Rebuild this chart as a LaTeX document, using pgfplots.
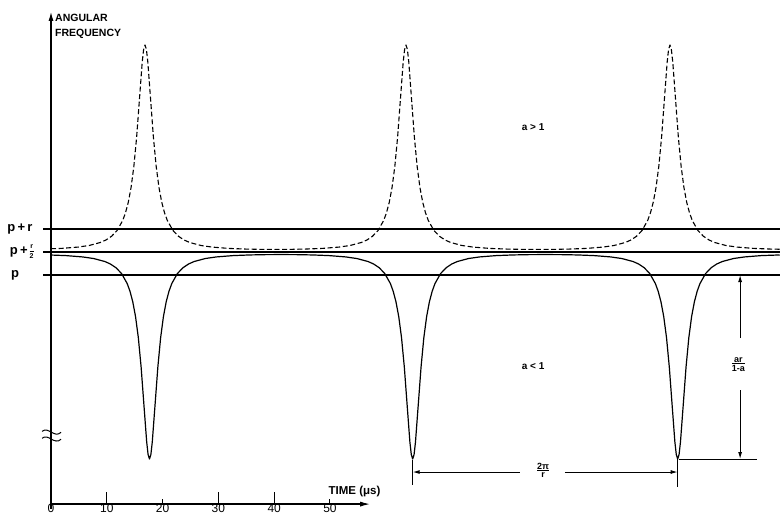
\documentclass[border=0pt]{standalone}
\usepackage{pgfplots}
\pgfplotsset{compat=1.18}
\usepackage{fontspec}
\setmainfont{Liberation Sans}
\usetikzlibrary{arrows.meta}

% small stacked fraction set in the text font
\newcommand{\tfrac}[2]{\begin{tabular}{@{}c@{}}\rule[-1.5pt]{0pt}{7pt}#1\\[-2.5pt]\hline\rule{0pt}{7.5pt}#2\end{tabular}}

\begin{document}
\begin{tikzpicture}
\begin{axis}[
  scale only axis, width=780pt, height=519pt,
  xmin=-9.14, xmax=130.65, ymin=-5.304, ymax=5.978,
  axis lines=none, clip=false,
  every axis plot/.append style={black, line join=round},
]
\coordinate (bbsw) at (rel axis cs:0,0);
\coordinate (bbne) at (rel axis cs:1,1);

% reference levels p+r, p+r/2, p
\addplot[line width=1.1pt] coordinates {(-1.4,1) (130.65,1)};
\addplot[line width=1.1pt] coordinates {(-1.4,0.5) (130.65,0.5)};
\addplot[line width=1.1pt] coordinates {(-1.4,0) (130.65,0)};

% a > 1 : instantaneous frequency (dashed)
\addplot[line width=1.1pt, dash pattern=on 5pt off 2.6pt] coordinates {
(0,0.572) (1.85,0.578) (4.85,0.607) (6.85,0.642) (8.85,0.707) (9.85,0.761)
(10.85,0.842) (11.85,0.969) (12.85,1.185) (13.35,1.351) (13.85,1.580)
(14.35,1.903) (14.85,2.361) (15.35,3.000) (15.85,3.818) (16.35,4.632)
(16.6,4.902) (16.85,5.0) (17.1,4.902) (17.35,4.632) (17.85,3.818)
(18.35,3.000) (18.85,2.361) (19.35,1.903) (19.85,1.580) (20.35,1.351)
(20.85,1.185) (21.85,0.969) (22.85,0.842) (23.85,0.761) (24.85,0.707)
(26.85,0.642) (28.85,0.607) (31.85,0.578) (34.85,0.564) (37.85,0.557)
(40.24,0.556)
(42.62,0.557) (45.62,0.564) (48.62,0.578) (51.62,0.607) (53.62,0.642)
(55.62,0.707) (56.62,0.761) (57.62,0.842) (58.62,0.969) (59.62,1.185)
(60.12,1.351) (60.62,1.580) (61.12,1.903) (61.62,2.361) (62.12,3.000)
(62.62,3.818) (63.12,4.632) (63.37,4.902) (63.62,5.0) (63.87,4.902)
(64.12,4.632) (64.62,3.818) (65.12,3.000) (65.62,2.361) (66.12,1.903)
(66.62,1.580) (67.12,1.351) (67.62,1.185) (68.62,0.969) (69.62,0.842)
(70.62,0.761) (71.62,0.707) (73.62,0.642) (75.62,0.607) (78.62,0.578)
(81.62,0.564) (84.62,0.557) (87.28,0.556)
(89.93,0.557) (92.93,0.564) (95.93,0.578) (98.93,0.607) (100.93,0.642)
(102.93,0.707) (103.93,0.761) (104.93,0.842) (105.93,0.969) (106.93,1.185)
(107.43,1.351) (107.93,1.580) (108.43,1.903) (108.93,2.361) (109.43,3.000)
(109.93,3.818) (110.43,4.632) (110.68,4.902) (110.93,5.0) (111.18,4.902)
(111.43,4.632) (111.93,3.818) (112.43,3.000) (112.93,2.361) (113.43,1.903)
(113.93,1.580) (114.43,1.351) (114.93,1.185) (115.93,0.969) (116.93,0.842)
(117.93,0.761) (118.93,0.707) (120.93,0.642) (122.93,0.607) (125.93,0.578)
(128.93,0.564) (130.6,0.560)
};

% a < 1 : instantaneous frequency (solid)
\addplot[line width=1.2pt] coordinates {
(0,0.434) (2.65,0.422) (5.65,0.393) (7.65,0.358) (9.65,0.293) (10.65,0.239)
(11.65,0.158) (12.65,0.031) (13.65,-0.185) (14.15,-0.351) (14.65,-0.580)
(15.15,-0.903) (15.65,-1.361) (16.15,-2.000) (16.65,-2.818) (17.15,-3.632)
(17.4,-3.902) (17.65,-4.0) (17.9,-3.902) (18.15,-3.632) (18.65,-2.818)
(19.15,-2.0) (19.65,-1.361) (20.15,-0.903) (20.65,-0.580) (21.15,-0.351)
(21.65,-0.185) (22.65,0.031) (23.65,0.158) (24.65,0.239) (25.65,0.293)
(27.65,0.358) (29.65,0.393) (32.65,0.422) (35.65,0.436) (38.65,0.443)
(41.24,0.444)
(43.82,0.443) (46.82,0.436) (49.82,0.422) (52.82,0.393) (54.82,0.358)
(56.82,0.293) (57.82,0.239) (58.82,0.158) (59.82,0.031) (60.82,-0.185)
(61.32,-0.351) (61.82,-0.580) (62.32,-0.903) (62.82,-1.361) (63.32,-2.0)
(63.82,-2.818) (64.32,-3.632) (64.57,-3.902) (64.82,-4.0) (65.07,-3.902)
(65.32,-3.632) (65.82,-2.818) (66.32,-2.0) (66.82,-1.361) (67.32,-0.903)
(67.82,-0.580) (68.32,-0.351) (68.82,-0.185) (69.82,0.031) (70.82,0.158)
(71.82,0.239) (72.82,0.293) (74.82,0.358) (76.82,0.393) (79.82,0.422)
(82.82,0.436) (85.82,0.443) (88.57,0.444)
(91.31,0.443) (94.31,0.436) (97.31,0.422) (100.31,0.393) (102.31,0.358)
(104.31,0.293) (105.31,0.239) (106.31,0.158) (107.31,0.031) (108.31,-0.185)
(108.81,-0.351) (109.31,-0.580) (109.81,-0.903) (110.31,-1.361) (110.81,-2.0)
(111.31,-2.818) (111.81,-3.632) (112.06,-3.902) (112.31,-4.0) (112.56,-3.902)
(112.81,-3.632) (113.31,-2.818) (113.81,-2.0) (114.31,-1.361) (114.81,-0.903)
(115.31,-0.580) (115.81,-0.351) (116.31,-0.185) (117.31,0.031) (118.31,0.158)
(119.31,0.239) (120.31,0.293) (122.31,0.358) (124.31,0.393) (127.31,0.422)
(130.6,0.436)
};

% axes
\draw[line width=1.2pt, -{Latex[length=9pt,width=5pt]}] (axis cs:0,-5.08) -- (axis cs:0,5.72);
\draw[line width=1.2pt, -{Latex[length=10pt,width=5pt]}] (axis cs:0,-4.98) -- (axis cs:57.2,-4.98);
\pgfplotsinvokeforeach{10,30,40}{
  \draw[line width=1pt] (axis cs:#1,-4.98) -- (axis cs:#1,-4.72);
}
\pgfplotsinvokeforeach{20,50}{
  \draw[line width=1pt] (axis cs:#1,-4.98) -- (axis cs:#1,-4.86);
}
% axis break
\draw[line width=1pt] (axis cs:-1.6,-3.40) .. controls (axis cs:-0.5,-3.28) and (axis cs:0.6,-3.56) .. (axis cs:1.8,-3.42);
\draw[line width=1pt] (axis cs:-1.6,-3.55) .. controls (axis cs:-0.5,-3.43) and (axis cs:0.6,-3.71) .. (axis cs:1.8,-3.57);

% tick labels and axis titles
\pgfplotsinvokeforeach{0,10,20,30,40,50}{
  \node[anchor=north, inner sep=0.3pt, font=\fontsize{12}{12}\selectfont] at (axis cs:#1,-4.98) {#1};
}
\node[font=\bfseries\fontsize{11.5}{12}\selectfont] at (axis cs:54.4,-4.70) {TIME (μs)};
\node[anchor=north west, inner sep=0pt, align=left,
      font=\bfseries\fontsize{10.5}{15}\selectfont] at (axis cs:0.72,5.68) {ANGULAR\\FREQUENCY};

% level labels
\node[anchor=east, inner sep=0pt, font=\bfseries\fontsize{13}{13}\selectfont] at (axis cs:-3.3,1) {p\,+\,r};
\node[anchor=east, inner sep=0pt, font=\bfseries\fontsize{13}{13}\selectfont] at (axis cs:-4.15,0.5) {p\,+};
\node[anchor=west, inner sep=0pt, font=\bfseries\fontsize{7}{7}\selectfont] at (axis cs:-3.85,0.5)
  {\begin{tabular}{@{}c@{}}\rule[-1.6pt]{0pt}{6.5pt}r\\[0.6pt]\hline\rule{0pt}{7.6pt}2\end{tabular}};
\node[anchor=east, inner sep=0pt, font=\bfseries\fontsize{13}{13}\selectfont] at (axis cs:-5.7,0) {p};

\node[font=\bfseries\fontsize{10}{12}\selectfont] at (axis cs:86.4,3.22) {a > 1};
\node[font=\bfseries\fontsize{10}{12}\selectfont] at (axis cs:86.4,-1.98) {a < 1};

% period dimension
\draw[line width=1pt] (axis cs:64.82,-4.03) -- (axis cs:64.82,-4.57);
\draw[line width=1pt] (axis cs:112.31,-3.98) -- (axis cs:112.31,-4.6);
\draw[line width=1pt, -{Latex[length=7pt,width=4pt]}] (axis cs:84.05,-4.283) -- (axis cs:64.82,-4.283);
\draw[line width=1pt, -{Latex[length=7pt,width=4pt]}] (axis cs:92.1,-4.283) -- (axis cs:112.31,-4.283);
\node[inner sep=0pt, font=\bfseries\fontsize{9}{9}\selectfont] at (axis cs:88.2,-4.283) {\tfrac{2π}{r}};

% depth dimension
\draw[line width=1pt] (axis cs:112.5,-4.0) -- (axis cs:126.5,-4.0);
\draw[line width=1pt, -{Latex[length=7pt,width=4pt]}] (axis cs:123.5,-1.37) -- (axis cs:123.5,0);
\draw[line width=1pt, -{Latex[length=7pt,width=4pt]}] (axis cs:123.5,-2.5) -- (axis cs:123.5,-4.0);
\node[inner sep=0pt, font=\bfseries\fontsize{9}{9}\selectfont] at (axis cs:123.2,-1.96) {\tfrac{ar}{1-a}};
\end{axis}
\pgfresetboundingbox
\path (bbsw) rectangle (bbne);
\end{tikzpicture}
\end{document}
